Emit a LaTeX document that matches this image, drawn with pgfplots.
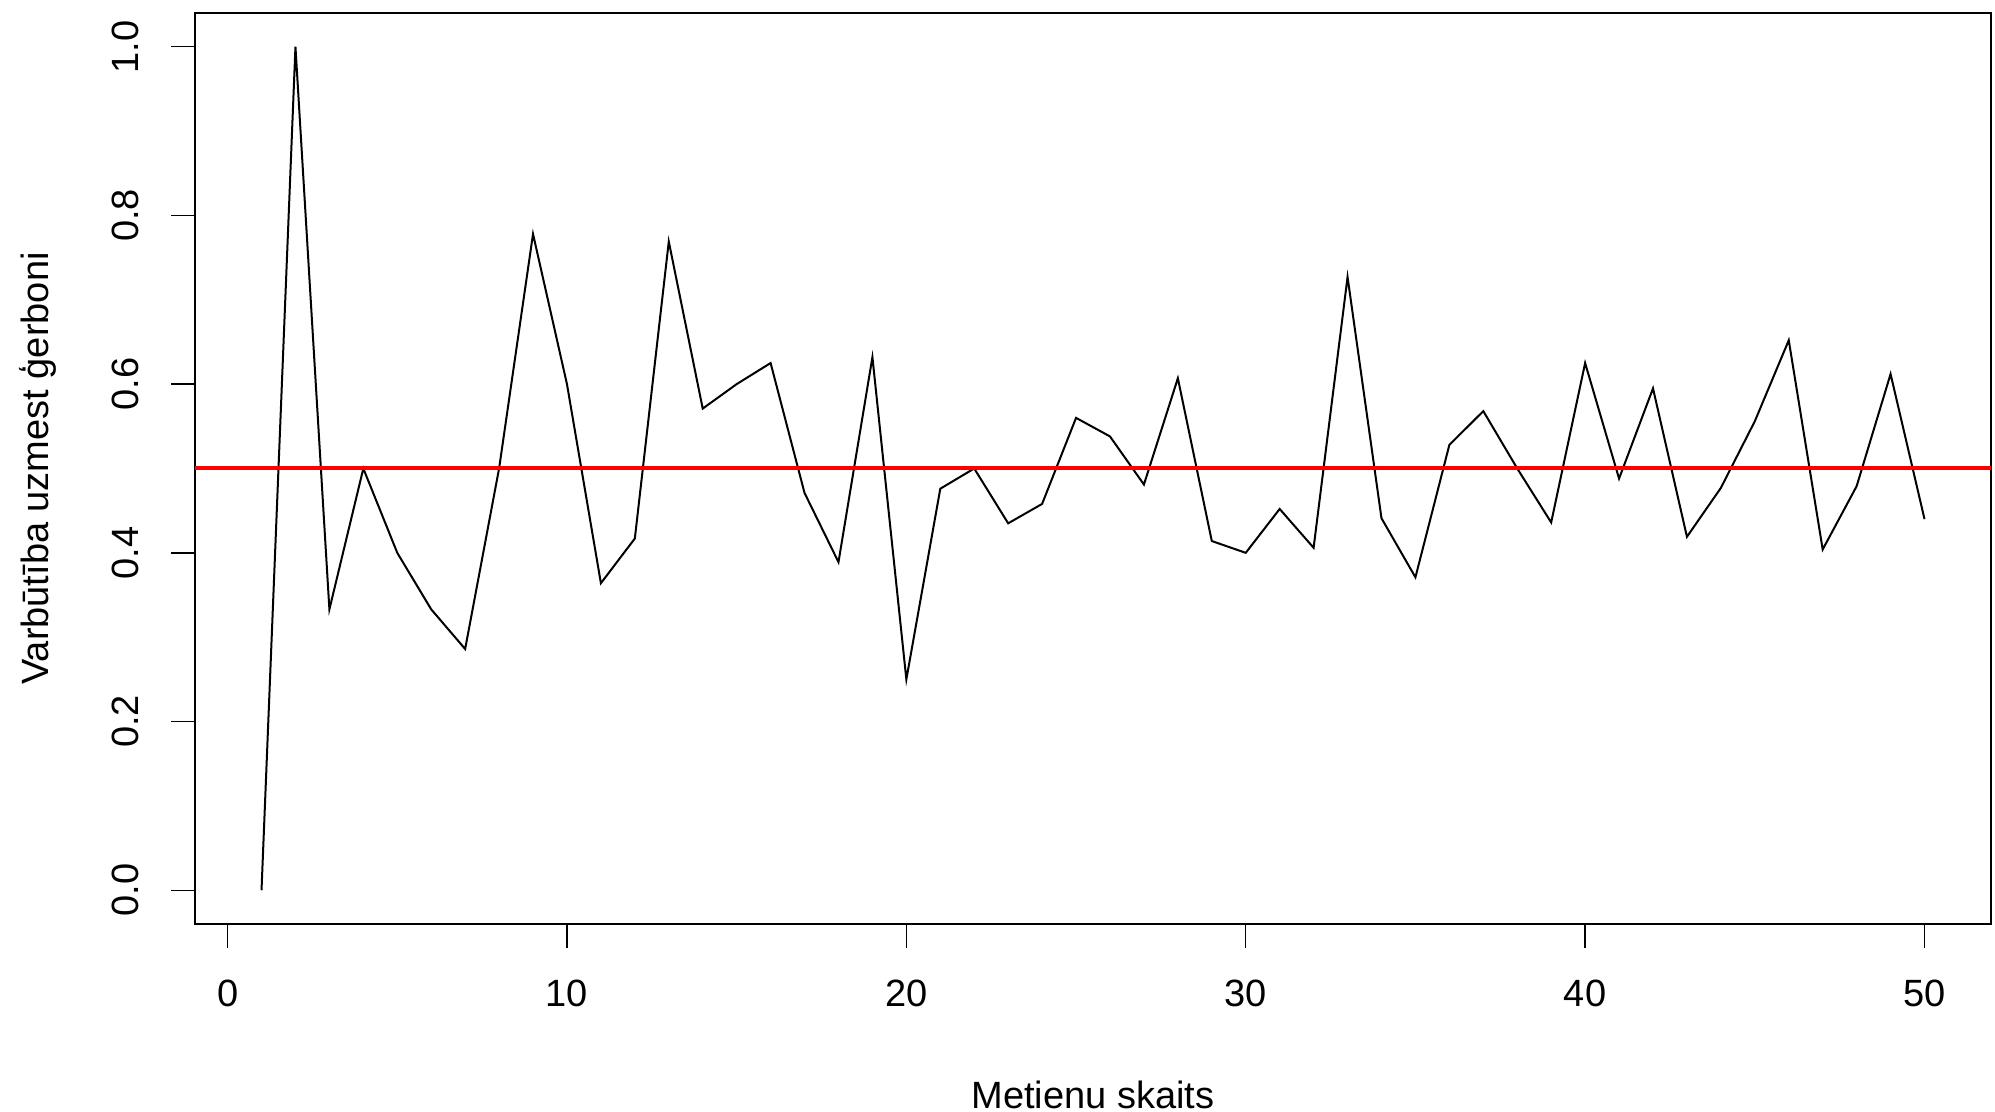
\documentclass[border=0pt]{standalone}
\usepackage{pgfplots}
\pgfplotsset{compat=1.18}
\usepackage{fontspec}
\setmainfont{Liberation Sans}
\begin{document}
\fontsize{11.4}{13.5}\selectfont
\begin{tikzpicture}
\useasboundingbox (0,0) rectangle (598.5pt,333.6pt);
\begin{axis}[
  at={(58.5pt,56.4pt)}, anchor=south west,
  scale only axis, width=538.8pt, height=273.3pt,
  xmin=-0.96, xmax=51.96, ymin=-0.04, ymax=1.04,
  xtick={0,10,20,30,40,50}, ytick={0,0.2,0.4,0.6,0.8,1.0},
  xtick pos=left, ytick pos=left,
  tick align=outside, major tick length=7.2pt,
  tick style={black, line width=0.4pt},
  axis line style={line width=0.6pt},
  /pgf/number format/assume math mode=true,
  yticklabel style={/pgf/number format/fixed, /pgf/number format/fixed zerofill, /pgf/number format/precision=1},
  yticklabel style={rotate=90, anchor=south, font=\fontsize{11.4}{13.5}\selectfont},
  xticklabel style={font=\fontsize{11.4}{13.5}\selectfont},
  xticklabel shift={5.7pt}, yticklabel shift={5.7pt},
  xlabel={Metienu skaits}, ylabel={Varbūtība uzmest ģerboni},
  xlabel shift={14.2pt}, ylabel shift={8.8pt},
  xlabel style={font=\fontsize{11.4}{13.5}\selectfont},
  ylabel style={font=\fontsize{11.4}{13.5}\selectfont},
  clip=true,
]
\addplot[black, line width=0.6pt] coordinates {
(1,0.000) (2,1.000) (3,0.333) (4,0.500) (5,0.400) (6,0.333) (7,0.286) (8,0.500) (9,0.778) (10,0.600)
(11,0.364) (12,0.417) (13,0.769) (14,0.571) (15,0.600) (16,0.625) (17,0.471) (18,0.389) (19,0.632) (20,0.250)
(21,0.476) (22,0.500) (23,0.435) (24,0.458) (25,0.560) (26,0.538) (27,0.481) (28,0.607) (29,0.414) (30,0.400)
(31,0.452) (32,0.406) (33,0.727) (34,0.441) (35,0.371) (36,0.528) (37,0.568) (38,0.500) (39,0.436) (40,0.625)
(41,0.488) (42,0.595) (43,0.419) (44,0.477) (45,0.556) (46,0.652) (47,0.404) (48,0.479) (49,0.612) (50,0.440)
};
\addplot[red, line width=1.2pt] coordinates {(-0.96,0.5) (51.96,0.5)};
\end{axis}
\end{tikzpicture}
\end{document}
